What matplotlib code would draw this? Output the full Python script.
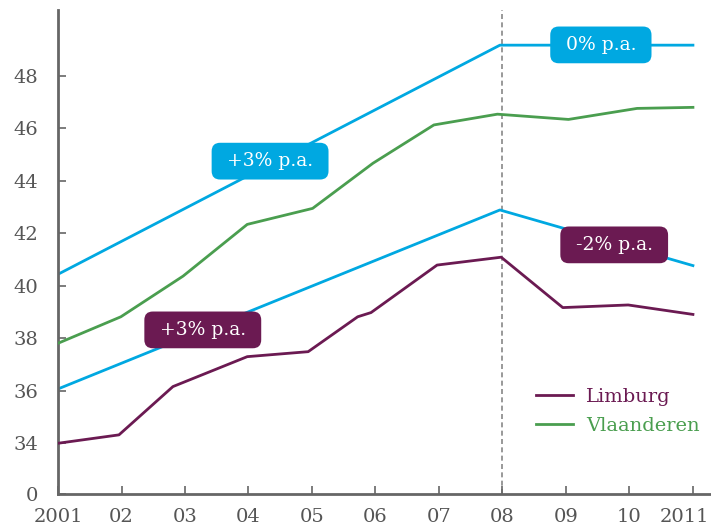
import matplotlib
matplotlib.use("Agg")
import matplotlib.pyplot as plt
from matplotlib.transforms import ScaledTranslation

# --- data ---
limburg_x = [2001.0, 2001.96, 2002.81, 2003.98, 2004.94, 2005.72, 2005.93,
             2006.97, 2007.98, 2008.95, 2009.98, 2011.0]
limburg_y = [34.0, 34.32, 36.16, 37.30, 37.49, 38.82, 38.98,
             40.79, 41.09, 39.17, 39.27, 38.91]

vlaanderen_x = [2001.0, 2001.99, 2002.97, 2003.98, 2005.01, 2005.96,
                2006.92, 2007.92, 2009.04, 2010.12, 2011.0]
vlaanderen_y = [37.81, 38.82, 40.37, 42.34, 42.95, 44.67,
                46.13, 46.54, 46.34, 46.76, 46.80]

trend_high_x = [2001.0, 2007.96, 2011.0]
trend_high_y = [40.44, 49.17, 49.17]
trend_low_x = [2001.0, 2007.96, 2011.0]
trend_low_y = [36.07, 42.89, 40.77]

year_ticks = list(range(2001, 2012))
year_labels = ["2001", "02", "03", "04", "05", "06", "07", "08", "09", "10", "2011"]
y_ticks = [32.07, 34, 36, 38, 40, 42, 44, 46, 48]
y_labels = ["0", "34", "36", "38", "40", "42", "44", "46", "48"]

# labels: (text, x, y, colour)
rate_labels = [
    ("+3% p.a.", 2004.34, 44.75, "blue"),
    ("0% p.a.", 2009.55, 49.18, "blue"),
    ("-2% p.a.", 2009.76, 41.56, "purple"),
    ("+3% p.a.", 2003.28, 38.32, "purple"),
]

# --- style ---
BLUE = "#00a8e1"
GREEN = "#4a9e4f"
PURPLE = "#6b1a52"
GREY = "#666666"
plt.rcParams["font.family"] = ["DejaVu Serif"]

fig = plt.figure(figsize=(7.11, 5.26), dpi=100)
ax = fig.add_axes([0.0816, 0.061, 0.918, 0.92])

ax.plot(trend_high_x, trend_high_y, color=BLUE, lw=2, zorder=2)
ax.plot(trend_low_x, trend_low_y, color=BLUE, lw=2, zorder=2)
ax.plot(limburg_x, limburg_y, color=PURPLE, lw=2, label="Limburg", zorder=3)
ax.plot(vlaanderen_x, vlaanderen_y, color=GREEN, lw=2, label="Vlaanderen", zorder=3)

ax.axvline(2008, color="#888888", lw=1.2, ls=(0, (3, 2)), zorder=1)

box_colours = {"blue": BLUE, "purple": PURPLE}
for txt, x, y, c in rate_labels:
    ax.text(x, y, " " + txt + " ", color="white", fontsize=13.5,
            ha="center", va="center", zorder=5,
            bbox=dict(boxstyle="round,pad=0.5,rounding_size=0.45",
                      fc=box_colours[c], ec="none"))

ax.set_xlim(2001, 2011.28)
ax.set_ylim(32.07, 50.51)
ax.set_xticks(year_ticks)
ax.set_xticklabels(year_labels)
ax.set_yticks(y_ticks)
ax.set_yticklabels(y_labels)

for side in ["top", "right"]:
    ax.spines[side].set_visible(False)
for side in ["left", "bottom"]:
    ax.spines[side].set_color(GREY)
    ax.spines[side].set_linewidth(2)

ax.tick_params(axis="both", direction="in", colors=GREY, labelcolor="#555555",
               labelsize=14, width=1.2, length=6)
ax.tick_params(axis="y", pad=14)
ax.tick_params(axis="x", pad=10)

# keep the last year label inside the picture
last = ax.get_xticklabels()[-1]
last.set_transform(last.get_transform() + ScaledTranslation(-6 / 72, 0, fig.dpi_scale_trans))

leg = ax.legend(loc="upper left", bbox_to_anchor=(0.705, 0.255), frameon=False,
                fontsize=14, handlelength=1.9, handletextpad=0.7,
                labelspacing=0.55, labelcolor="linecolor")

fig.savefig("out.png", dpi=100)
